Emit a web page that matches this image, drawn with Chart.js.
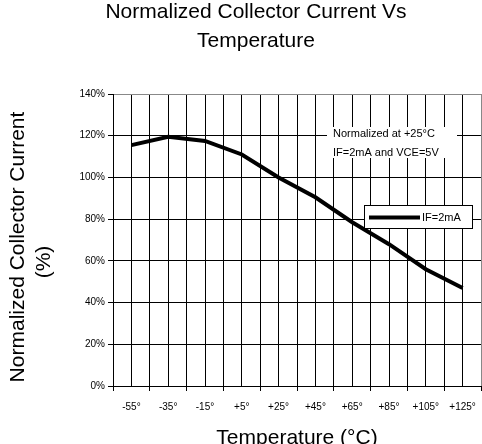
<!DOCTYPE html>
<html>
<head>
<meta charset="utf-8">
<script src="https://cdn.jsdelivr.net/npm/chart.js@4.4.0/dist/chart.umd.min.js"></script>
<style>
  body { margin: 0; background: #fff; }
</style>
</head>
<body>
<canvas id="tempChart" width="482" height="444"></canvas>
<script>
'use strict';

// values
let temps = [-55, -35, -15, 5, 25, 45, 65, 85, 105, 125];
let tempLabels = ['-55°', '-35°', '-15°', '+5°', '+25°', '+45°', '+65°', '+85°', '+105°', '+125°'];
let currentPct = [115.5, 119.5, 117.5, 111, 100, 90.5, 78.5, 68, 56, 47];
let seriesName = 'IF=2mA';

// texts
let titleLines = ['Normalized Collector Current Vs', 'Temperature'];
let noteLines = ['Normalized at +25°C', 'IF=2mA and VCE=5V'];
let xTitle = 'Temperature (°C)';
let yTitle = ['Normalized Collector Current', '(%)'];

let fontFamily = "'Liberation Sans', Arial, sans-serif";

// points for the line
let points = [];
for (let i = 0; i < temps.length; i++) {
    points.push({ x: temps[i], y: currentPct[i] });
}

// titles, note box and legend box drawn on top
let extraText = {
    id: 'extraText',
    afterDatasetsDraw(chart) {
        let ctx = chart.ctx;
        ctx.save();

        // note box
        ctx.fillStyle = '#fff';
        ctx.fillRect(327, 127, 130, 31);
        ctx.fillStyle = '#000';
        ctx.font = '11px ' + fontFamily;
        ctx.textAlign = 'left';
        ctx.textBaseline = 'middle';
        ctx.fillText(noteLines[0], 333, 134);
        ctx.fillText(noteLines[1], 333, 152.5);

        // legend box
        ctx.fillStyle = '#fff';
        ctx.fillRect(364.5, 205.5, 108, 23);
        ctx.strokeStyle = '#000';
        ctx.lineWidth = 1;
        ctx.strokeRect(364.5, 205.5, 108, 23);
        ctx.beginPath();
        ctx.lineWidth = 4;
        ctx.moveTo(369, 217.5);
        ctx.lineTo(420, 217.5);
        ctx.stroke();
        ctx.fillStyle = '#000';
        ctx.fillText(chart.data.datasets[0].label, 422, 217.5);

        // main title
        ctx.font = '21px ' + fontFamily;
        ctx.textAlign = 'center';
        ctx.fillText(titleLines[0], 256, 12.7);
        ctx.fillText(titleLines[1], 256, 41);

        // y axis title, cut at the top like the original
        ctx.save();
        ctx.beginPath();
        ctx.rect(0, 112, 70, 332);
        ctx.clip();
        ctx.translate(18, 247);
        ctx.rotate(-Math.PI / 2);
        ctx.fillText(yTitle[0], 0, 0);
        ctx.restore();
        ctx.save();
        ctx.translate(44, 262);
        ctx.rotate(-Math.PI / 2);
        ctx.fillText(yTitle[1], 0, 0);
        ctx.restore();

        ctx.restore();
    }
};

let ctx = document.getElementById('tempChart').getContext('2d');
new Chart(ctx, {
    type: 'line',
    data: {
        datasets: [{
            label: seriesName,
            data: points,
            borderColor: '#000',
            backgroundColor: '#000',
            borderWidth: 4,
            pointRadius: 0,
            tension: 0,
            fill: false
        }]
    },
    options: {
        responsive: false,
        animation: false,
        devicePixelRatio: 1,
        layout: { padding: { top: 94, right: 1, left: 0, bottom: 0 } },
        plugins: {
            legend: { display: false },
            tooltip: { enabled: false },
            title: { display: false }
        },
        scales: {
            x: {
                type: 'linear',
                min: -65,
                max: 135,
                afterFit(scale) {
                    scale.height = 58;
                    scale.paddingLeft = 0;
                    scale.paddingRight = 0;
                },
                ticks: {
                    stepSize: 10,
                    autoSkip: false,
                    maxRotation: 0,
                    padding: 10,
                    color: '#000',
                    font: { family: fontFamily, size: 10 },
                    callback: function (value) {
                        let idx = temps.indexOf(value);
                        return idx >= 0 ? tempLabels[idx] : '';
                    }
                },
                grid: {
                    color: (c) => (c.tick && c.tick.value === 135 ? '#888' : '#000'),
                    lineWidth: 1,
                    tickLength: 5,
                    tickColor: (c) => (((c.tick.value + 65) / 10) % 2 === 0 ? '#000' : 'rgba(0,0,0,0)')
                },
                border: { color: '#000', width: 1 },
                title: {
                    display: true,
                    text: xTitle,
                    color: '#000',
                    font: { family: fontFamily, size: 21, lineHeight: 1 },
                    padding: { top: 0, bottom: -5 }
                }
            },
            y: {
                min: 0,
                max: 140,
                afterFit(scale) { scale.width = 113; },
                ticks: {
                    stepSize: 20,
                    padding: 3,
                    color: '#000',
                    font: { family: fontFamily, size: 10 },
                    callback: (value) => value + '%'
                },
                grid: {
                    color: (c) => (c.tick && c.tick.value === 140 ? '#888' : '#000'),
                    lineWidth: 1,
                    tickLength: 5,
                    tickColor: '#000'
                },
                border: { color: '#000', width: 1 }
            }
        }
    },
    plugins: [extraText]
});
</script>
</body>
</html>
